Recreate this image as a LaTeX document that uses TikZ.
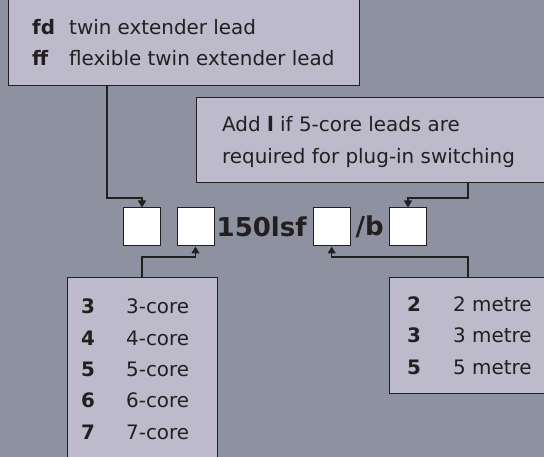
\documentclass[tikz,border=0pt]{standalone}
\usepackage{fontspec}
\setmainfont{DejaVu Sans}
\usetikzlibrary{positioning,arrows.meta}
\definecolor{bgcol}{RGB}{142,145,160}
\definecolor{panelcol}{RGB}{188,186,203}
\definecolor{inkcol}{RGB}{35,31,32}
\tikzset{
 panel/.style={draw=inkcol,line width=1.1pt,fill=panelcol,anchor=north west,inner sep=0pt},
 slot/.style={draw=inkcol,line width=1pt,fill=white,minimum width=37pt,minimum height=38pt,inner sep=0pt},
 conn/.style={draw=inkcol,line width=1.2pt,-{Triangle[length=7pt,width=8pt]}},
 txt/.style={anchor=base west,inner sep=0pt,text=inkcol,font=\fontsize{19.9pt}{24pt}\selectfont},
 code/.style={txt,font=\fontsize{19.9pt}{24pt}\selectfont\bfseries},
 big/.style={inner sep=0pt,text=inkcol,font=\fontsize{26pt}{30pt}\selectfont\bfseries}
}
\begin{document}
\begin{tikzpicture}[x=1pt,y=-1pt]
\fill[bgcol] (0,0) rectangle (544,457);
\useasboundingbox (0,0) rectangle (544,457);
% panels
\node[panel,minimum width=351pt,minimum height=95pt] (leads) at (8,-10) {};
\node[panel,minimum width=358pt,minimum height=85pt] (note) at (196,97) {};
\node[panel,minimum width=150pt,minimum height=193pt] (cores) at (67,277) {};
\node[panel,minimum width=165pt,minimum height=116pt] (lengths) at (389,277) {};
% top texts
\node[code] (fd) at (32,35) {fd};
\node[txt] (fdt) at (69,35) {twin extender lead};
\node[code] (ff) at (32,65.7) {ff};
\node[txt] (fft) at (69,65.7) {flexible twin extender lead};
\node[txt] (add1) at (222,131.7) {Add \textbf{l} if 5-core leads are};
\node[txt] (add2) at (222,163.3) {required for plug-in switching};
% the code line
\node[slot] (b1) at (142,227) {};
\node[slot] (b2) at (195.5,227) {};
\node[big,right=2pt of b2] (mid) {150lsf};
\node[slot] (b3) at (331.7,227) {};
\node[big] (sfx) at (369.7,227) {/b};
\node[slot] (b4) at (408,227) {};
% lists
\foreach \n [count=\i] in {3,4,5,6,7}
 {\node[code] (k\n) at (81,282.7+31.3*\i) {\n};
  \node[txt] (c\n) at (126,282.7+31.3*\i) {\n-core};}
\foreach \n [count=\i] in {2,3,5}
 {\node[code] (m\n) at (407,280.5+31.2*\i) {\n};
  \node[txt] (l\n) at (453,280.5+31.2*\i) {\n\ metre};}
% connectors
\draw[conn] ([xshift=99pt]leads.south west) -- ++(0,112) -| (b1.north);
\draw[conn] ([xshift=272pt]note.south west) -- ++(0,15) -| (b4.north);
\draw[conn] ([xshift=75pt]cores.north west) -- ++(0,-20) -| (b2.south);
\draw[conn] ([xshift=79pt]lengths.north west) -- ++(0,-20) -| (b3.south);
\end{tikzpicture}
\end{document}
